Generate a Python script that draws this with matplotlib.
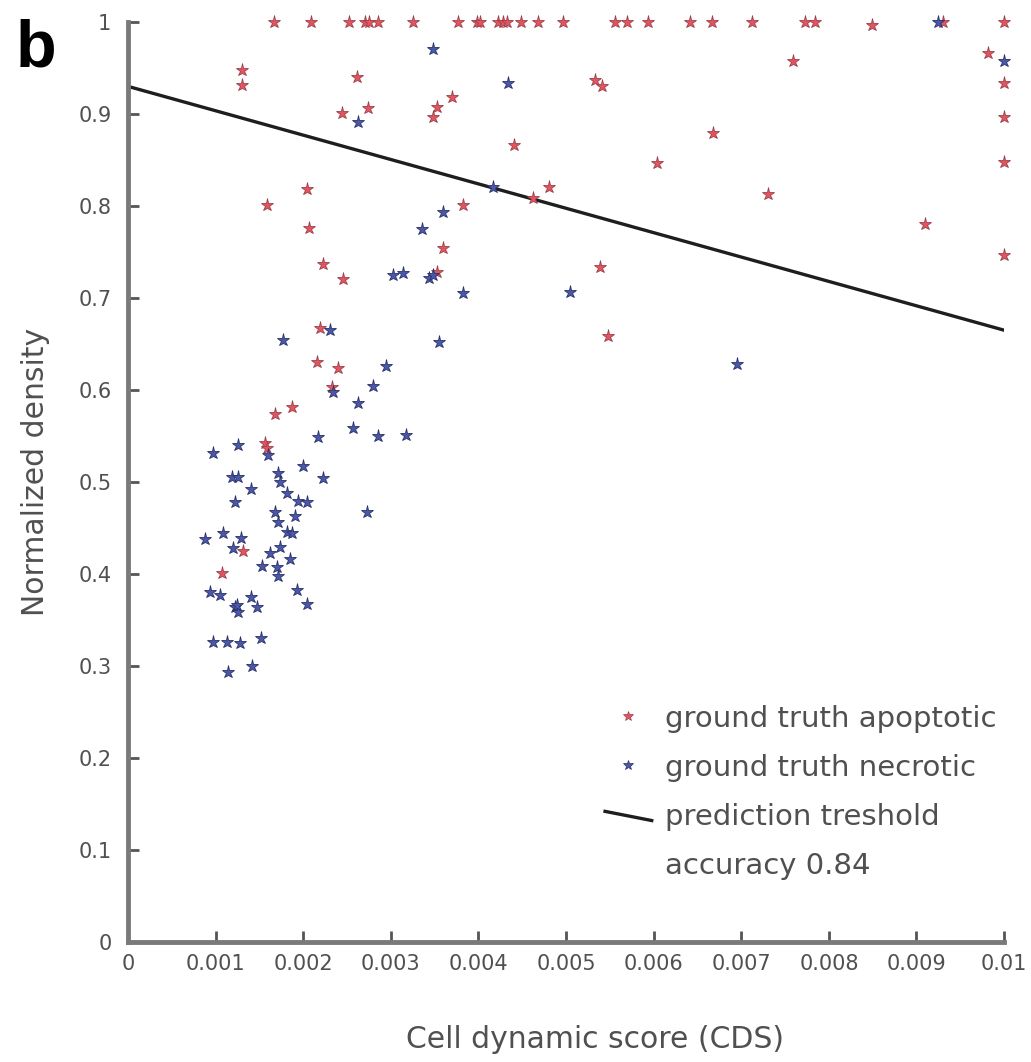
import matplotlib
matplotlib.use("Agg")
import matplotlib.pyplot as plt
from matplotlib.legend_handler import HandlerBase
from matplotlib.lines import Line2D

# ground truth apoptotic cells (CDS, normalized density)
apop_x = [0.00167, 0.00209, 0.00252, 0.00271, 0.00275, 0.00285, 0.00325, 0.00377,
          0.00398, 0.00402, 0.00422, 0.00428, 0.00433, 0.00448, 0.00468, 0.00497,
          0.00556, 0.00570, 0.00593, 0.00642, 0.00667, 0.00712, 0.00773, 0.00784,
          0.00849, 0.00930, 0.01000,
          0.00130, 0.00130, 0.00261, 0.00244, 0.00274, 0.00370, 0.00353, 0.00348,
          0.00440, 0.00204, 0.00159, 0.00206, 0.00382, 0.00360, 0.00222, 0.00245,
          0.00353, 0.00219, 0.00759, 0.00982, 0.01000, 0.01000, 0.00533, 0.00541,
          0.00668, 0.00604, 0.00730, 0.00910, 0.01000, 0.01000, 0.00539, 0.00548,
          0.00480, 0.00462, 0.00216, 0.00240, 0.00233, 0.00168, 0.00187, 0.00156,
          0.00159, 0.00131, 0.00107]
apop_y = [1.0, 1.0, 1.0, 1.0, 1.0, 1.0, 1.0, 1.0,
          1.0, 1.0, 1.0, 1.0, 1.0, 1.0, 1.0, 1.0,
          1.0, 1.0, 1.0, 1.0, 1.0, 1.0, 1.0, 1.0,
          0.997, 1.0, 1.0,
          0.948, 0.932, 0.940, 0.901, 0.906, 0.918, 0.908, 0.897,
          0.866, 0.818, 0.801, 0.776, 0.801, 0.754, 0.737, 0.721,
          0.728, 0.667, 0.958, 0.966, 0.934, 0.897, 0.937, 0.930,
          0.879, 0.847, 0.813, 0.780, 0.848, 0.747, 0.734, 0.659,
          0.821, 0.809, 0.630, 0.624, 0.603, 0.574, 0.582, 0.542,
          0.537, 0.425, 0.401]

# ground truth necrotic cells
necr_x = [0.00924, 0.00348, 0.00434, 0.00263, 0.00417, 0.00360, 0.00335, 0.00303,
          0.00314, 0.00343, 0.00348, 0.00382, 0.00231, 0.00177, 0.00355, 0.01000,
          0.00505, 0.00695, 0.00295, 0.00234, 0.00280, 0.00263, 0.00257, 0.00285,
          0.00317, 0.00217, 0.00097, 0.00126, 0.00160, 0.00200, 0.00223, 0.00119,
          0.00126, 0.00140, 0.00122, 0.00171, 0.00174, 0.00182, 0.00194, 0.00204,
          0.00168, 0.00191, 0.00273, 0.00171, 0.00182, 0.00187, 0.00088, 0.00108,
          0.00129, 0.00120, 0.00174, 0.00162, 0.00185, 0.00153, 0.00170, 0.00171,
          0.00094, 0.00105, 0.00193, 0.00204, 0.00122, 0.00126, 0.00124, 0.00140,
          0.00147, 0.00097, 0.00113, 0.00128, 0.00152, 0.00114, 0.00142]
necr_y = [1.0, 0.971, 0.934, 0.891, 0.821, 0.793, 0.775, 0.725,
          0.727, 0.722, 0.725, 0.705, 0.665, 0.654, 0.652, 0.958,
          0.707, 0.628, 0.626, 0.598, 0.604, 0.586, 0.559, 0.550,
          0.551, 0.549, 0.532, 0.540, 0.529, 0.517, 0.504, 0.505,
          0.505, 0.492, 0.478, 0.510, 0.500, 0.488, 0.479, 0.478,
          0.467, 0.463, 0.467, 0.457, 0.446, 0.445, 0.438, 0.445,
          0.439, 0.428, 0.429, 0.423, 0.416, 0.409, 0.408, 0.398,
          0.380, 0.377, 0.383, 0.367, 0.364, 0.359, 0.366, 0.375,
          0.364, 0.326, 0.326, 0.325, 0.330, 0.294, 0.300]

# prediction threshold line end points
thr_x = [0.0, 0.01]
thr_y = [0.93, 0.665]

x_ticks = [0, 0.001, 0.002, 0.003, 0.004, 0.005, 0.006, 0.007, 0.008, 0.009, 0.01]
x_tick_labels = ["0", "0.001", "0.002", "0.003", "0.004", "0.005",
                 "0.006", "0.007", "0.008", "0.009", "0.01"]
y_ticks = [0, 0.1, 0.2, 0.3, 0.4, 0.5, 0.6, 0.7, 0.8, 0.9, 1]
y_tick_labels = ["0", "0.1", "0.2", "0.3", "0.4", "0.5", "0.6", "0.7", "0.8", "0.9", "1"]

RED = "#e4545a"
RED_EDGE = "#9a4050"
BLUE = "#4a58aa"
BLUE_EDGE = "#2b3168"
GREY = "#7a7a7a"
TEXT = "#505050"


class SlantedLineHandler(HandlerBase):
    # legend handle drawn as a slightly tilted line, like in the figure
    def create_artists(self, legend, orig_handle, xdescent, ydescent,
                       width, height, fontsize, trans):
        line = Line2D([-xdescent, -xdescent + width],
                      [-ydescent + height * 0.65, -ydescent + height * 0.2],
                      color=orig_handle.get_color(),
                      linewidth=orig_handle.get_linewidth(),
                      transform=trans)
        return [line]


fig = plt.figure(figsize=(10.31, 10.62), dpi=100)
ax = fig.add_axes([0.1242, 0.1130, 0.8497, 0.8663])

ax.plot(apop_x, apop_y, linestyle="none", marker="*", markersize=9.5,
        markerfacecolor=RED, markeredgecolor=RED_EDGE, markeredgewidth=0.6,
        clip_on=False, zorder=3)
ax.plot(necr_x, necr_y, linestyle="none", marker="*", markersize=9.5,
        markerfacecolor=BLUE, markeredgecolor=BLUE_EDGE, markeredgewidth=0.6,
        clip_on=False, zorder=3)
thr_line, = ax.plot(thr_x, thr_y, color="#1e1e1e", linewidth=2.4, zorder=2)

ax.set_xlim(0, 0.01)
ax.set_ylim(0, 1)
ax.set_xticks(x_ticks)
ax.set_xticklabels(x_tick_labels)
ax.set_yticks(y_ticks)
ax.set_yticklabels(y_tick_labels)

for side in ["top", "right"]:
    ax.spines[side].set_visible(False)
for side in ["left", "bottom"]:
    ax.spines[side].set_color(GREY)
    ax.spines[side].set_linewidth(3.5)

ax.tick_params(axis="both", direction="in", length=8, width=2, color="#555555",
               labelsize=15, labelcolor=TEXT)
ax.tick_params(axis="y", pad=12)
ax.tick_params(axis="x", pad=9)

ax.set_xlabel("Cell dynamic score (CDS)", fontsize=21.5, color=TEXT)
ax.set_ylabel("Normalized density", fontsize=21.5, color=TEXT)
ax.xaxis.set_label_coords(0.533, -0.09)
ax.yaxis.set_label_coords(-0.089, 0.511)

red_handle = Line2D([], [], linestyle="none", marker="*", markersize=7,
                    markerfacecolor=RED, markeredgecolor=RED_EDGE, markeredgewidth=0.5)
blue_handle = Line2D([], [], linestyle="none", marker="*", markersize=7,
                     markerfacecolor=BLUE, markeredgecolor=BLUE_EDGE, markeredgewidth=0.5)
empty_handle = Line2D([], [], linestyle="none")

leg = ax.legend([red_handle, blue_handle, thr_line, empty_handle],
                ["ground truth apoptotic", "ground truth necrotic",
                 "prediction treshold", "accuracy 0.84"],
                handler_map={thr_line: SlantedLineHandler()},
                loc="upper left", bbox_to_anchor=(0.5445, 0.258),
                frameon=False, fontsize=21, labelspacing=0.72,
                handlelength=1.6, handletextpad=0.45,
                borderpad=0, borderaxespad=0)
for t in leg.get_texts():
    t.set_color(TEXT)

fig.text(0.015, 0.983, "b", fontsize=48, fontweight="bold",
         family="Liberation Sans", va="top", ha="left", color="black")

fig.savefig("out.png", dpi=100)
